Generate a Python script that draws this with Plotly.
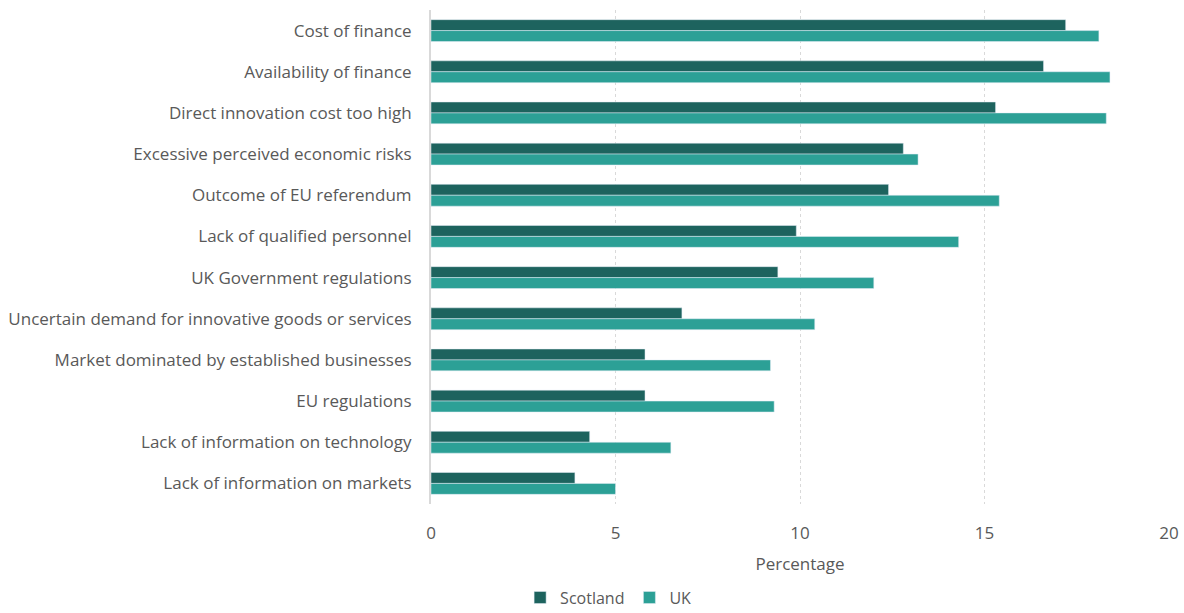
import plotly.graph_objects as go

categories = [
    "Cost of finance",
    "Availability of finance",
    "Direct innovation cost too high",
    "Excessive perceived economic risks",
    "Outcome of EU referendum",
    "Lack of qualified personnel",
    "UK Government regulations",
    "Uncertain demand for innovative goods or services",
    "Market dominated by established businesses",
    "EU regulations",
    "Lack of information on technology",
    "Lack of information on markets",
]
scotland = [17.2, 16.6, 15.3, 12.8, 12.4, 9.9, 9.4, 6.8, 5.8, 5.8, 4.3, 3.9]
uk = [18.1, 18.4, 18.3, 13.2, 15.4, 14.3, 12.0, 10.4, 9.2, 9.3, 6.5, 5.0]
x_ticks = [0, 5, 10, 15, 20]

FONT = "Open Sans"
GREY = "#595959"

fig = go.Figure()
fig.add_trace(go.Bar(y=categories, x=scotland, name="Scotland", orientation="h",
                     marker=dict(color="#1D635E")))
fig.add_trace(go.Bar(y=categories, x=uk, name="UK", orientation="h",
                     marker=dict(color="#2CA096")))

fig.update_layout(
    width=1184, height=613,
    margin=dict(l=431, r=15, t=10, b=109, autoexpand=False),
    plot_bgcolor="white", paper_bgcolor="white",
    barmode="group", bargap=0.47, bargroupgap=0,
    font=dict(family=FONT, size=17, color=GREY),
    legend=dict(orientation="h", x=0.24, xanchor="center", y=-0.155, yanchor="top",
                font=dict(size=16, color=GREY), itemwidth=30, traceorder="normal",
                tracegroupgap=0),
    xaxis=dict(range=[0, 20], tickvals=x_ticks, showgrid=True, gridcolor="#D9D9D9",
               griddash="dot", gridwidth=1, zeroline=False, showline=False,
               ticks="outside", ticklen=14, tickcolor="white",
               tickfont=dict(size=17, color=GREY),
               title=dict(text="Percentage", font=dict(size=17, color=GREY), standoff=14)),
    yaxis=dict(autorange="reversed", showline=True, linecolor="#D9D9D9", linewidth=2,
               showgrid=False, ticks="outside", ticklen=14, tickcolor="white",
               tickfont=dict(size=17, color=GREY)),
)

fig.write_html("out.html")
